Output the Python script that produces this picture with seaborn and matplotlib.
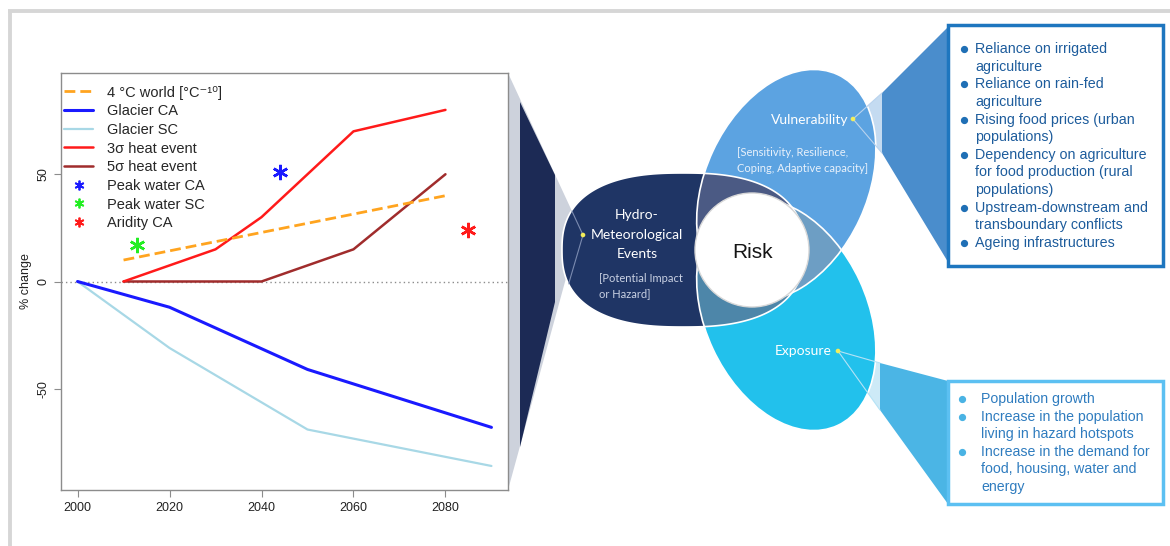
import numpy as np
import pandas as pd
import matplotlib
matplotlib.use("Agg")
import matplotlib.pyplot as plt
import seaborn as sns
from matplotlib.patches import Polygon, Circle, Rectangle, PathPatch, Ellipse
from matplotlib.path import Path
from matplotlib.lines import Line2D

# ---------------- data ----------------
years_world = [2010, 2080]
world_4c = [10, 40]                      # 4 °C world (°C x 10)
years_glacier = [2000, 2020, 2050, 2090]
glacier_ca = [0, -12, -41, -68]
glacier_sc = [0, -31, -69, -86]
years_heat3 = [2010, 2030, 2040, 2060, 2080]
heat_3sigma = [0, 15, 30, 70, 80]
years_heat5 = [2010, 2040, 2060, 2080]
heat_5sigma = [0, 0, 15, 50]
star_names = ["Peak water CA", "Peak water SC", "Aridity CA"]
star_years = [2044, 2013, 2085]
star_values = [51, 17, 24]
line_names = ["4 °C world [°C⁻¹⁰]", "Glacier CA", "Glacier SC",
              "3σ heat event", "5σ heat event"]
x_ticks = [2000, 2020, 2040, 2060, 2080]
x_tick_labels = ["2000", "2020", "2040", "2060", "2080"]
y_ticks = [-50, 0, 50]
y_tick_labels = ["-50", "0", "50"]
vulnerability_items = ["Reliance on irrigated\nagriculture",
                       "Reliance on rain-fed\nagriculture",
                       "Rising food prices (urban\npopulations)",
                       "Dependency on agriculture\nfor food production (rural\npopulations)",
                       "Upstream-downstream and\ntransboundary conflicts",
                       "Ageing infrastructures"]
exposure_items = ["Population growth",
                  "Increase in the population\nliving in hazard hotspots",
                  "Increase in the demand for\nfood, housing, water and\nenergy"]

sns.set_style("white")
plt.rcParams["font.family"] = ["Liberation Sans", "DejaVu Sans"]
plt.rcParams["axes.unicode_minus"] = False

W, H = 1170, 546
fig = plt.figure(figsize=(W / 100, H / 100), dpi=100)

# ---------------- overlay (diagram) in pixel coordinates ----------------
ov = fig.add_axes([0, 0, 1, 1])
ov.set_xlim(0, W)
ov.set_ylim(H, 0)
ov.axis("off")

# outer frame
ov.plot([8, W], [10.5, 10.5], color="#d6d6d6", lw=2.8, solid_capstyle="butt")
ov.plot([10, 10], [10.5, H], color="#d6d6d6", lw=2.8, solid_capstyle="butt")


def fit_ellipse(pts):
    P = np.asarray(pts, float)
    m = P.mean(0)
    s = 100.0
    Q = (P - m) / s
    x, y = Q[:, 0], Q[:, 1]
    A = np.column_stack([x * x, x * y, y * y, x, y])
    p, *_ = np.linalg.lstsq(A, np.ones(len(x)), rcond=None)
    a, b, c, d, e = p
    M = np.array([[a, b / 2], [b / 2, c]])
    g = np.array([d, e])
    z0 = -0.5 * np.linalg.solve(M, g)
    K = 1 - z0 @ M @ z0 - g @ z0
    lam, V = np.linalg.eigh(M)
    ax_len = np.sqrt(K / lam) * s
    center = z0 * s + m
    ang = np.degrees(np.arctan2(V[1, 0], V[0, 0]))
    return center, 2 * ax_len[0], 2 * ax_len[1], ang


vul_pts = [(707, 173), (697, 203), (713, 157), (733, 110), (767, 83), (795, 76),
           (820, 75), (842, 79), (860, 87), (878, 137), (867, 193), (840, 250),
           (787, 297)]
exp_pts = [(x, 500 - y) for x, y in vul_pts]
vc, vw, vh, va = fit_ellipse(vul_pts)
ec_, ew, eh, ea = fit_ellipse(exp_pts)

C_HYD = "#1f3565"
C_VUL = "#5ca3e1"
C_EXP = "#22c1ec"

# hydro callout (gray wedge + navy strip) behind hydro shape
ov.add_patch(Polygon([(508, 73), (583, 235), (577, 238), (508, 490)],
                     closed=True, fc="#cdd2dc", ec="none", zorder=1))
ov.add_patch(Polygon([(520, 102), (555, 175), (555, 302), (520, 447)],
                     closed=True, fc="#1c2a55", ec="none", zorder=2))

# hydro superellipse
t = np.linspace(0, 2 * np.pi, 500)
nexp = 2.5
hx = 683 + 121 * np.sign(np.cos(t)) * np.abs(np.cos(t)) ** (2 / nexp)
hy = 250 + 77 * np.sign(np.sin(t)) * np.abs(np.sin(t)) ** (2 / nexp)
hyd_path = Path(np.column_stack([hx, hy]), closed=True)

hyd = PathPatch(hyd_path, fc=C_HYD, ec="none", zorder=3)
ov.add_patch(hyd)
vul = Ellipse(vc, vw, vh, angle=va, fc=C_VUL, ec="none", zorder=3)
ov.add_patch(vul)
exp = Ellipse(ec_, ew, eh, angle=ea, fc=C_EXP, ec="none", zorder=3)
ov.add_patch(exp)

# pairwise overlaps
p1 = Ellipse(ec_, ew, eh, angle=ea, fc="#6d9ec4", ec="none", zorder=4)
ov.add_patch(p1); p1.set_clip_path(vul)
p2 = Ellipse(ec_, ew, eh, angle=ea, fc="#4d86a9", ec="none", zorder=4)
ov.add_patch(p2); p2.set_clip_path(hyd)
p3 = Ellipse(vc, vw, vh, angle=va, fc="#4b5a84", ec="none", zorder=4)
ov.add_patch(p3); p3.set_clip_path(hyd)

# white outlines
ov.add_patch(PathPatch(hyd_path, fc="none", ec="white", lw=1.2, zorder=5))
ov.add_patch(Ellipse(vc, vw, vh, angle=va, fc="none", ec="white", lw=1.2, zorder=5))
ov.add_patch(Ellipse(ec_, ew, eh, angle=ea, fc="none", ec="white", lw=1.2, zorder=5))

# risk circle
ov.add_patch(Circle((752, 250), 57, fc="white", ec="#d8d8d8", lw=1.0, zorder=6))
ov.text(753, 252, "Risk", ha="center", va="center", fontsize=15,
        color="#151515", zorder=7)

# hydro lines from dot (clipped inside hydro)
for (x2, y2) in [(508, 73), (508, 490)]:
    ln, = ov.plot([583, x2], [235, y2], color="#7b8bb0", lw=0.8, zorder=5)
    ln.set_clip_path(hyd)

# vulnerability callout
ov.add_patch(Polygon([(853, 119), (882, 93), (882, 153)], closed=True,
                     fc="#c4dbf1", ec="none", zorder=2))
ov.add_patch(Polygon([(882, 93), (948, 27), (948, 262), (882, 153)], closed=True,
                     fc="#4a8dcc", ec="none", zorder=2))
for (x2, y2) in [(882, 93), (882, 153)]:
    ov.plot([853, x2], [119, y2], color="#b9d3ee", lw=0.8, zorder=5)

# exposure callout
ov.add_patch(Polygon([(838, 351), (880, 363), (880, 410)], closed=True,
                     fc="#cdeaf7", ec="none", zorder=2))
ov.add_patch(Polygon([(880, 363), (948, 381), (948, 504), (880, 410)], closed=True,
                     fc="#4bb5e5", ec="none", zorder=2))
for (x2, y2) in [(880, 363), (880, 410)]:
    ov.plot([838, x2], [351, y2], color="#b5e3f6", lw=0.8, zorder=5)

# yellow dots
for (x, y) in [(583, 235), (853, 119), (838, 351)]:
    ov.add_patch(Circle((x, y), 2.3, fc="#f3ee5a", ec="none", zorder=8))

# ellipse texts
dfont = ["Lato", "DejaVu Sans"]
ov.text(637, 215, "Hydro-", ha="center", va="center", fontsize=10,
        color="white", family=dfont, zorder=8)
ov.text(637, 235, "Meteorological", ha="center", va="center", fontsize=10,
        color="white", family=dfont, zorder=8)
ov.text(637, 254, "Events", ha="center", va="center", fontsize=10,
        color="white", family=dfont, zorder=8)
ov.text(599, 278, "[Potential Impact", ha="left", va="center", fontsize=8,
        color="#c9d1e3", family=dfont, zorder=8)
ov.text(599, 294, "or Hazard]", ha="left", va="center", fontsize=8,
        color="#c9d1e3", family=dfont, zorder=8)
ov.text(848, 120, "Vulnerability", ha="right", va="center", fontsize=10,
        color="white", family=dfont, zorder=8)
ov.text(737, 152, "[Sensitivity, Resilience,", ha="left", va="center", fontsize=8,
        color="#e8f1fb", family=dfont, zorder=8)
ov.text(737, 168, "Coping, Adaptive capacity]", ha="left", va="center", fontsize=8,
        color="#e8f1fb", family=dfont, zorder=8)
ov.text(832, 351, "Exposure", ha="right", va="center", fontsize=10,
        color="white", family=dfont, zorder=8)

# boxes
ov.add_patch(Rectangle((948, 25), 215, 241, fc="white", ec="#1e76bf", lw=2.5, zorder=3))
ov.add_patch(Rectangle((948, 381), 215, 123, fc="white", ec="#5cc0f2", lw=2.5, zorder=3))

row = 0
for item in vulnerability_items:
    for k, line in enumerate(item.split("\n")):
        y = 49 + row * 17.64
        if k == 0:
            ov.plot([964], [y], "o", ms=4.2, color="#1f6fb5", zorder=6)
        ov.text(975, y, line, ha="left", va="center", fontsize=10.3,
                color="#1d5c9c", zorder=6)
        row += 1

row = 0
for item in exposure_items:
    for k, line in enumerate(item.split("\n")):
        y = 399 + row * 17.6
        if k == 0:
            ov.plot([962], [y], "o", ms=4.2, color="#4ab3e4", zorder=6)
        ov.text(981, y, line, ha="left", va="center", fontsize=10.2,
                color="#2f7cbf", zorder=6)
        row += 1

# ---------------- line chart ----------------
ax = fig.add_axes([61 / W, (H - 490) / H, (508 - 61) / W, (490 - 73) / H])
ax.set_facecolor("white")

colors = ["#ffa41f", "#1a1aff", "#a8d8e6", "#ff1a1a", "#a02c2c"]
series = [(years_world, world_4c), (years_glacier, glacier_ca),
          (years_glacier, glacier_sc), (years_heat3, heat_3sigma),
          (years_heat5, heat_5sigma)]
widths = [2.0, 2.2, 1.6, 1.8, 1.8]
styles = [(0, (3.9, 1.8)), "-", "-", "-", "-"]

ax.axhline(0, color="#8c8c8c", lw=1.0, ls=(0, (1, 2.2)), zorder=1)
order = [2, 1, 4, 3, 0]
for i in order:
    xs, ys = series[i]
    df = pd.DataFrame({"year": xs, "value": ys})
    sns.lineplot(data=df, x="year", y="value", ax=ax, color=colors[i],
                 linewidth=widths[i], linestyle=styles[i], zorder=3)

star_colors = ["#1a1aff", "#22ee22", "#ff1a1a"]
for sx, sy, sc in zip(star_years, star_values, star_colors):
    ax.plot([sx], [sy], ls="none", marker=(6, 2, 0), ms=11, mew=1.8,
            color=sc, zorder=4)

ax.set_xlim(1996.4, 2093.6)
ax.set_ylim(-97.2, 97.2)
ax.set_xticks(x_ticks)
ax.set_xticklabels(x_tick_labels)
ax.set_yticks(y_ticks)
ax.set_yticklabels(y_tick_labels, rotation=90, va="center")
ax.set_xlabel("")
ax.set_ylabel("% change", fontsize=9, color="#222222", labelpad=4)
ax.tick_params(direction="out", length=5, width=0.8, color="#8c8c8c",
               labelsize=9, labelcolor="#222222", left=True, bottom=True)
for sp in ax.spines.values():
    sp.set_color("#8c8c8c")
    sp.set_linewidth(1.0)
    sp.set_visible(True)

handles = []
for i in range(5):
    handles.append(Line2D([], [], color=colors[i], lw=widths[i], ls=styles[i]))
for sc in star_colors:
    handles.append(Line2D([], [], ls="none", marker=(6, 2, 0), ms=7, mew=1.3, color=sc))
labels = line_names + star_names
ax.legend(handles, labels, loc="upper left", bbox_to_anchor=(0.007, 0.970),
          frameon=False, fontsize=10.5, handlelength=2.0, handletextpad=0.95,
          labelspacing=0.32, borderpad=0, borderaxespad=0)

fig.savefig("out.png", dpi=100)
